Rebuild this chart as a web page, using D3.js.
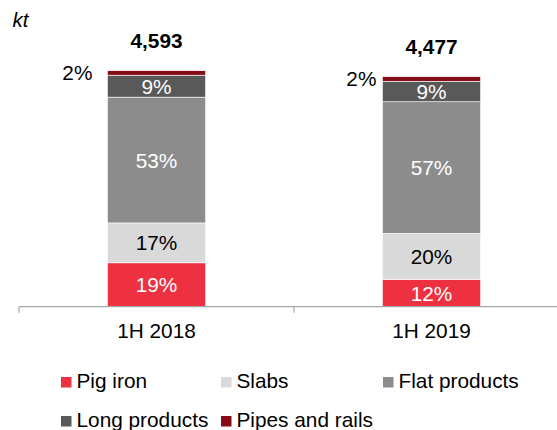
<!DOCTYPE html>
<html>
<head>
<meta charset="utf-8">
<script src="https://cdn.jsdelivr.net/npm/d3@7"></script>
<style>
  html, body { margin: 0; padding: 0; background: #fff; }
  svg text { font-family: "Liberation Sans", Arial, sans-serif; }
</style>
</head>
<body>
<div id="chart"></div>
<script>
// data (shares in %, totals in kt)
const categories = ["1H 2018", "1H 2019"];
const totals = [4593, 4477];
const products = ["Pig iron", "Slabs", "Flat products", "Long products", "Pipes and rails"];
const pigIron = [18.6, 11.9];
const slabs = [16.9, 20.0];
const flatProducts = [53.3, 57.2];
const longProducts = [9.3, 8.9];
const pipesRails = [1.9, 2.0];
const colors = ["#EE3140", "#D9D9D9", "#8C8C8C", "#595959", "#850D16"];

const shares = [pigIron, slabs, flatProducts, longProducts, pipesRails];

const W = 557, H = 430;
const FS = 20.8;
const svg = d3.select("#chart").append("svg")
  .attr("width", W).attr("height", H);

// rows in kt for the stack
const rows = categories.map((c, i) => {
  const r = { cat: c };
  products.forEach((p, j) => { r[p] = shares[j][i] / 100 * totals[i]; r[p + "_pct"] = shares[j][i]; });
  return r;
});

const x = d3.scaleBand().domain(categories).range([19, 569]).padding(0);
const barW = x.bandwidth() * 0.357;
const y = d3.scaleLinear().domain([0, 5000]).range([306.7, 49.8]);

const stack = d3.stack().keys(products)(rows);

const layers = svg.selectAll("g.layer").data(stack).enter().append("g")
  .attr("class", "layer")
  .attr("fill", (d, i) => colors[i]);

layers.selectAll("rect").data(d => d).enter().append("rect")
  .attr("x", d => x(d.data.cat) + x.bandwidth() / 2 - barW / 2)
  .attr("y", d => y(d[1]))
  .attr("width", barW)
  .attr("height", d => y(d[0]) - y(d[1]))
  .attr("stroke", "#fff")
  .attr("stroke-width", 0.6);

// segment labels
const labelColor = ["#fff", "#000", "#fff", "#fff", "#000"];
const pipeDx = [-15, -6];
stack.forEach((layer, j) => {
  layer.forEach((d, i) => {
    const cx = x(d.data.cat) + x.bandwidth() / 2;
    const cy = (y(d[0]) + y(d[1])) / 2;
    const outside = j === products.length - 1;
    svg.append("text")
      .attr("x", outside ? cx - barW / 2 + pipeDx[i] : cx)
      .attr("y", cy)
      .attr("dy", "0.36em")
      .attr("text-anchor", outside ? "end" : "middle")
      .attr("font-size", FS)
      .attr("fill", labelColor[j])
      .text(Math.round(d.data[products[j] + "_pct"]) + "%");
  });
});

// totals
svg.selectAll("text.total").data(rows).enter().append("text")
  .attr("class", "total")
  .attr("x", d => x(d.cat) + x.bandwidth() / 2)
  .attr("y", (d, i) => y(totals[i]) - 23)
  .attr("text-anchor", "middle")
  .attr("font-size", FS)
  .attr("font-weight", "bold")
  .attr("fill", "#000")
  .text((d, i) => d3.format(",")(totals[i]));

// axis
const axisG = svg.append("g").attr("transform", "translate(0,306.7)");
axisG.append("line")
  .attr("x1", x.range()[0]).attr("x2", x.range()[1])
  .attr("y1", 0).attr("y2", 0)
  .attr("stroke", "#A6A6A6").attr("stroke-width", 1.2);
const tickXs = categories.map(c => x(c)).concat([x.range()[1]]);
axisG.selectAll("line.tick").data(tickXs).enter().append("line")
  .attr("class", "tick")
  .attr("x1", d => d).attr("x2", d => d)
  .attr("y1", 0).attr("y2", 6)
  .attr("stroke", "#A6A6A6").attr("stroke-width", 1.2);
axisG.selectAll("text").data(categories).enter().append("text")
  .attr("x", d => x(d) + x.bandwidth() / 2)
  .attr("y", 31.6)
  .attr("text-anchor", "middle")
  .attr("font-size", FS)
  .attr("fill", "#000")
  .text(d => d);

// unit
svg.append("text")
  .attr("x", 12.5).attr("y", 26.7)
  .attr("font-size", 20.5)
  .attr("font-style", "italic")
  .attr("fill", "#000")
  .text("kt");

// legend
const colXs = [61, 221, 383];
const rowYs = [377, 416];
const leg = svg.selectAll("g.leg").data(products).enter().append("g")
  .attr("class", "leg")
  .attr("transform", (d, i) => `translate(${colXs[i % 3]},${rowYs[Math.floor(i / 3)]})`);
leg.append("rect")
  .attr("width", 10.5).attr("height", 10.5)
  .attr("fill", (d, i) => colors[i]);
leg.append("text")
  .attr("x", 15.5).attr("y", 11.3)
  .attr("font-size", FS)
  .attr("fill", "#000")
  .text(d => d);
</script>
</body>
</html>
